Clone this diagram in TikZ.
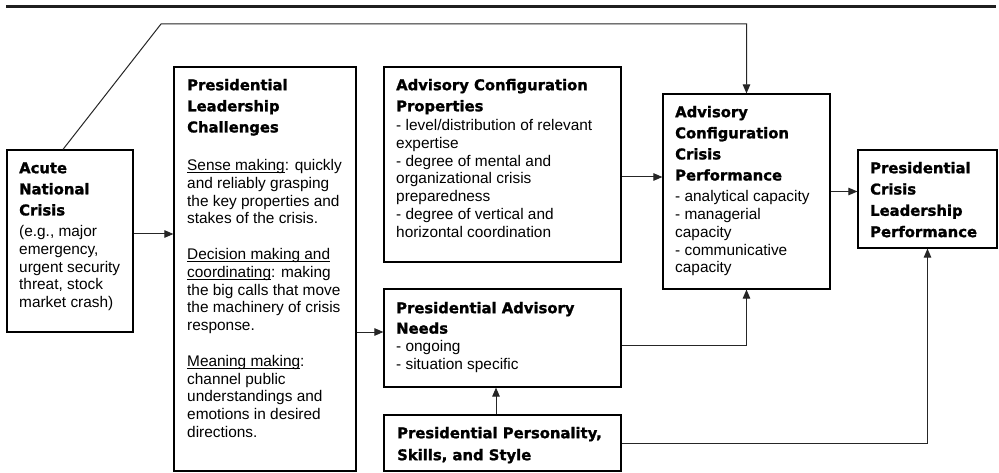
\documentclass[tikz,border=0pt]{standalone}
\usepackage{fontspec}
\setmainfont{Liberation Sans}
\newfontfamily\hfont[FakeBold=1.4]{DejaVu Sans Bold}
\usetikzlibrary{arrows.meta}
\newlength\ullen
\newcommand\myul[1]{\settowidth\ullen{#1}\rlap{\rule[-2.2pt]{\ullen}{0.9pt}}#1}
\newcommand\hd[1]{{\hfont\fontsize{14.8}{17.8}\selectfont #1}}
\newcommand\fl{\rule{0pt}{12pt}}
\begin{document}
\begin{tikzpicture}[x=1pt,y=-1pt,
  boxst/.style={draw=black, fill=white, line width=1.2pt, inner sep=0pt, rectangle},
  txt/.style={anchor=north west, inner sep=0pt, align=left, font=\fontsize{15.4}{17.8}\selectfont},
  conn/.style={draw=black!85, line width=1pt},
  arr/.style={conn, -{Triangle[length=9pt,width=7.5pt]}}]
\useasboundingbox (0,0) rectangle (999,473);
\fill[white] (0,0) rectangle (999,473);
% top rule
\draw[line width=3pt, black!88] (6,7) -- (996,7);
% boxes
\node[boxst, minimum width=126pt, minimum height=182pt] (acute) at (70,241) {};
\node[boxst, minimum width=182pt, minimum height=404pt] (plc) at (265,269) {};
\node[boxst, minimum width=237pt, minimum height=195pt] (acp) at (502.5,164.5) {};
\node[boxst, minimum width=237pt, minimum height=98pt] (pan) at (502.5,338) {};
\node[boxst, minimum width=237pt, minimum height=56pt] (pps) at (502.5,443) {};
\node[boxst, minimum width=167pt, minimum height=195pt] (accp) at (746.5,191.5) {};
\node[boxst, minimum width=139pt, minimum height=98pt] (pclp) at (927.5,199) {};
% texts
\node[txt] (acutet) at (19,161) {\fl\hd{Acute}\\[3.3pt]\hd{National}\\[3.3pt]\hd{Crisis}\\[3.3pt](e.g., major\\emergency,\\urgent security\\threat, stock\\market crash)};
\node[txt] (plct) at (187,78) {\fl\hd{Presidential}\\[3.3pt]\hd{Leadership}\\[3.3pt]\hd{Challenges}\\[20.2pt]\myul{Sense making}: quickly\\and reliably grasping\\the key properties and\\stakes of the crisis.\\[17.8pt]\myul{Decision making and}\\\myul{coordinating}: making\\the big calls that move\\the machinery of crisis\\response.\\[17.8pt]\myul{Meaning making}:\\channel public\\understandings and\\emotions in desired\\directions.};
\node[txt] (acpt) at (396,78) {\fl\hd{Advisory Configuration}\\[3.3pt]\hd{Properties}\\[1.4pt]- level/distribution of relevant\\expertise\\- degree of mental and\\organizational crisis\\preparedness\\- degree of vertical and\\horizontal coordination};
\node[txt] (pant) at (396,301) {\fl\hd{Presidential Advisory}\\[2.6pt]\hd{Needs}\\[0.5pt]- ongoing\\- situation specific};
\node[txt] (ppst) at (397,426) {\fl\hd{Presidential Personality,}\\[4.2pt]\hd{Skills, and Style}};
\node[txt] (accpt) at (675,105) {\fl\hd{Advisory}\\[3.3pt]\hd{Configuration}\\[3.3pt]\hd{Crisis}\\[3.3pt]\hd{Performance}\\[3.3pt]- analytical capacity\\- managerial\\capacity\\- communicative\\capacity};
\node[txt] (pclpt) at (870,161) {\fl\hd{Presidential}\\[3.5pt]\hd{Crisis}\\[3.5pt]\hd{Leadership}\\[3.5pt]\hd{Performance}};
% connectors
\coordinate (t1) at (161,24);
\coordinate (t2) at (accp.north |- t1);
\draw[arr] ([xshift=-7pt]acute.north) -- (t1) -- (t2) -- (accp.north);
\coordinate (ay) at (0,234);
\draw[arr] (acute.east |- ay) -- (plc.west |- ay);
\coordinate (by) at (0,177);
\draw[arr] (acp.east |- by) -- (accp.west |- by);
\draw[arr] (accp.east) -- (pclp.west |- accp.east);
\coordinate (cy) at (0,332);
\draw[arr] (plc.east |- cy) -- (pan.west |- cy);
\coordinate (dy) at (0,345);
\draw[arr] (pan.east |- dy) -| (accp.south);
\coordinate (ex) at (496,0);
\draw[arr] (pps.north -| ex) -- (pan.south -| ex);
\draw[arr] (pps.east) -| (pclp.south);
\end{tikzpicture}
\end{document}
